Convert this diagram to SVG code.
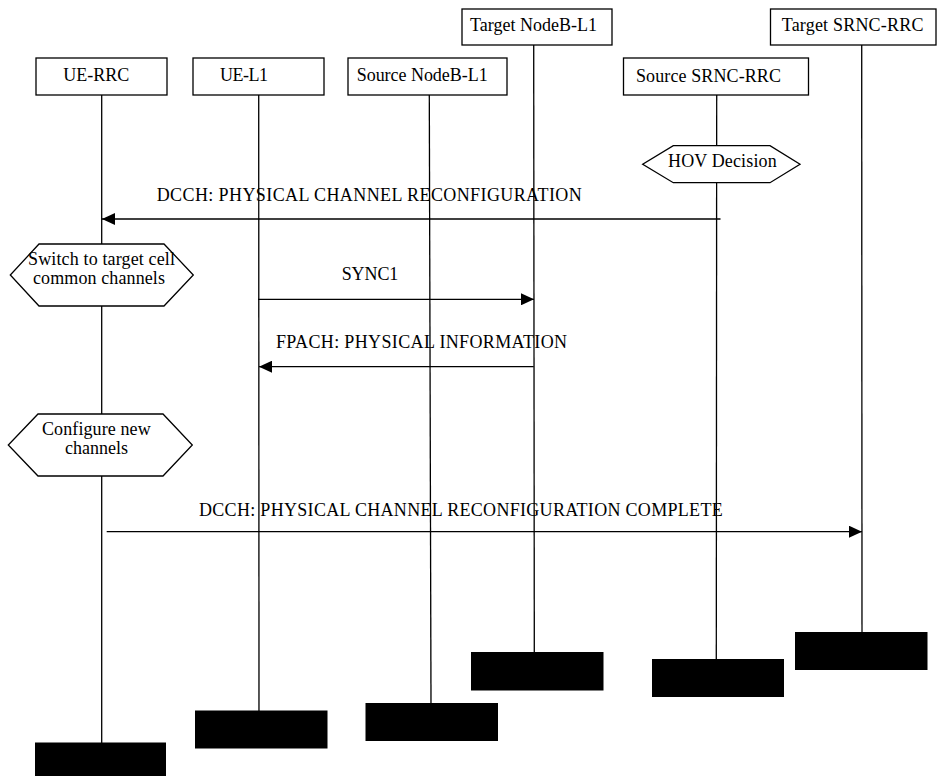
<svg xmlns="http://www.w3.org/2000/svg" width="938" height="776" viewBox="0 0 938 776">
<defs>
<style>
.box{fill:#fff;stroke:#000;stroke-width:1.3}
.hex{fill:#fff;stroke:#000;stroke-width:1.3}
.life{stroke:#000;stroke-width:1.3;fill:none}
.msg{stroke:#000;stroke-width:1.3;fill:none}
.term{fill:#000}
text{font-family:"Liberation Serif","Times New Roman",serif;font-size:18px;fill:#000}
.c{text-anchor:middle}
</style>
<marker id="ah" markerWidth="13" markerHeight="12" refX="13" refY="6" orient="auto" markerUnits="userSpaceOnUse">
<path d="M0,0 L13,6 L0,12 Z" fill="#000"/>
</marker>
</defs>
<rect width="938" height="776" fill="#fff"/>
<g id="lifelines">
<line class="life" x1="101.7" y1="95" x2="101.7" y2="743"/>
<line class="life" x1="258.7" y1="95" x2="259" y2="711"/>
<line class="life" x1="429.3" y1="95" x2="431" y2="703"/>
<line class="life" x1="533.7" y1="45" x2="534.3" y2="652"/>
<line class="life" x1="716.7" y1="95" x2="716.3" y2="659"/>
<line class="life" x1="861.7" y1="45" x2="862" y2="632"/>
</g>
<g id="ue-rrc">
<rect class="box" x="36" y="58" width="131" height="37"/>
<text x="63.3" y="81" textLength="66">UE-RRC</text>
<rect class="term" x="35" y="742.5" width="131" height="40"/>
</g>
<g id="ue-l1">
<rect class="box" x="193" y="58" width="131" height="37"/>
<text x="220" y="81" textLength="48">UE-L1</text>
<rect class="term" x="195" y="710.5" width="132.5" height="38"/>
</g>
<g id="source-nodeb-l1">
<rect class="box" x="348" y="58" width="159" height="37"/>
<text x="356.7" y="81" textLength="131">Source NodeB-L1</text>
<rect class="term" x="365.5" y="703" width="132.5" height="38"/>
</g>
<g id="target-nodeb-l1">
<rect class="box" x="462" y="9" width="150" height="36"/>
<text x="470" y="31" textLength="127">Target NodeB-L1</text>
<rect class="term" x="471" y="652" width="132.5" height="38.5"/>
</g>
<g id="source-srnc-rrc">
<rect class="box" x="623.5" y="58" width="185" height="37"/>
<text x="636" y="81.5" textLength="145">Source SRNC-RRC</text>
<rect class="term" x="652" y="659" width="132" height="38"/>
</g>
<g id="target-srnc-rrc">
<rect class="box" x="770.5" y="9" width="165.5" height="36"/>
<text x="781.7" y="31" textLength="141.7">Target SRNC-RRC</text>
<rect class="term" x="795" y="632" width="132.5" height="38"/>
</g>
<g id="hov-decision">
<polygon class="hex" points="673.3,145.7 770,145.7 800,164.2 770,182.7 673.3,182.7 642.7,164.2"/>
<text x="668" y="167.3" textLength="108.7">HOV Decision</text>
</g>
<g id="switch">
<polygon class="hex" points="39,244 164,244 193.3,275 164,306 39,306 10.3,275"/>
<text x="28" y="265" textLength="147">Switch to target cell</text>
<text x="33" y="284.3" textLength="132">common channels</text>
</g>
<g id="configure">
<polygon class="hex" points="38,414 163,414 192.3,445 163,476 38,476 8.3,445"/>
<text x="42" y="435" textLength="108.7">Configure new</text>
<text x="65" y="454.3" textLength="63">channels</text>
</g>
<g id="connectors">
<line class="msg" x1="720.5" y1="219" x2="102" y2="219" marker-end="url(#ah)"/>
<text x="156.7" y="201" textLength="425">DCCH:  PHYSICAL CHANNEL RECONFIGURATION</text>
<line class="msg" x1="258" y1="299.3" x2="534" y2="299.3" marker-end="url(#ah)"/>
<text x="341.7" y="280" textLength="56.6">SYNC1</text>
<line class="msg" x1="533.7" y1="366.7" x2="259" y2="366.7" marker-end="url(#ah)"/>
<text x="276" y="347.7" textLength="291">FPACH: PHYSICAL INFORMATION</text>
<line class="msg" x1="106.7" y1="531.7" x2="862" y2="531.7" marker-end="url(#ah)"/>
<text x="199" y="516" textLength="523.7">DCCH: PHYSICAL CHANNEL RECONFIGURATION COMPLETE</text>
</g>
</svg>
